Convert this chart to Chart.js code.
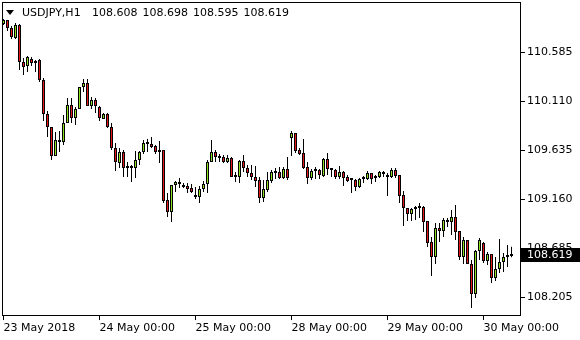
<!DOCTYPE html>
<html>
<head>
<meta charset="utf-8">
<script src="https://cdn.jsdelivr.net/npm/chart.js@4/dist/chart.umd.min.js"></script>
<style>
  html,body{margin:0;padding:0;background:#fff;overflow:hidden}
  #wrap{position:relative;width:580px;height:340px}
  .ttl{position:absolute;top:6px;font:11px 'DejaVu Sans',sans-serif;line-height:13px;color:#000;white-space:pre}
  #sym{left:22px}
  #ohlc{left:92px;word-spacing:1.5px}
  #tri{position:absolute;left:6px;top:10px;width:0;height:0;border-left:4.5px solid transparent;border-right:4.5px solid transparent;border-top:5px solid #000}
</style>
</head>
<body>
<div id="wrap">
  <canvas id="c" width="580" height="340"></canvas>
  <div id="tri"></div>
  <div id="sym" class="ttl"></div>
  <div id="ohlc" class="ttl"></div>
</div>
<script>
const SYMBOL = 'USDJPY,H1'

// hourly candles, 23 May 00:00 .. 30 May 07:00
const OPEN = [
  110.856,110.895,110.818,110.721,110.847,110.488,110.449,110.517,110.478,110.507,
  110.314,109.984,109.858,109.577,109.712,109.712,109.897,110.071,109.945,110.032,
  110.246,110.284,110.061,110.120,110.052,109.935,109.984,109.858,109.654,109.509,
  109.616,109.470,109.460,109.460,109.538,109.616,109.703,109.693,109.674,109.616,
  109.635,109.150,109.034,109.296,109.325,109.296,109.286,109.267,109.189,109.179,
  109.257,109.305,109.519,109.616,109.567,109.567,109.519,109.557,109.383,109.373,
  109.528,109.460,109.412,109.373,109.344,109.170,109.247,109.334,109.422,109.422,
  109.364,109.451,109.751,109.800,109.635,109.606,109.470,109.364,109.441,109.441,
  109.383,109.548,109.451,109.441,109.373,109.422,109.373,109.354,109.344,109.276,
  109.354,109.354,109.412,109.373,109.373,109.402,109.393,109.373,109.441,109.393,
  109.199,109.073,109.015,109.063,109.073,109.082,108.947,108.743,108.598,108.879,
  108.850,108.956,108.937,108.985,108.850,108.598,108.762,108.530,108.239,108.656,
  108.733,108.559,108.627,108.394,108.481,108.549,108.598,108.608
]
const HIGH = [
  110.905,110.895,110.837,110.866,110.856,110.527,110.546,110.536,110.507,110.517,
  110.333,110.013,109.858,109.809,109.819,109.974,110.139,110.139,110.052,110.246,
  110.323,110.323,110.149,110.139,110.061,109.994,109.994,109.897,109.703,109.654,
  109.635,109.519,109.490,109.625,109.625,109.732,109.742,109.761,109.683,109.722,
  109.635,109.218,109.296,109.334,109.364,109.315,109.315,109.305,109.276,109.286,
  109.334,109.538,109.732,109.635,109.596,109.586,109.586,109.567,109.422,109.538,
  109.586,109.490,109.490,109.480,109.373,109.344,109.422,109.441,109.460,109.470,
  109.470,109.567,109.819,109.800,109.654,109.742,109.519,109.451,109.470,109.451,
  109.557,109.606,109.460,109.451,109.480,109.431,109.393,109.364,109.354,109.364,
  109.383,109.431,109.412,109.393,109.431,109.431,109.412,109.460,109.460,109.393,
  109.237,109.073,109.073,109.092,109.121,109.092,108.947,108.792,108.927,108.927,
  108.976,108.976,109.053,109.102,108.850,108.792,108.762,108.569,108.666,108.782,
  108.743,108.646,108.627,108.598,108.772,108.636,108.714,108.698
]
const LOW = [
  110.847,110.789,110.711,110.711,110.410,110.362,110.391,110.449,110.391,110.294,
  109.916,109.761,109.538,109.577,109.616,109.683,109.897,109.897,109.877,110.032,
  110.197,110.061,110.032,109.994,109.916,109.935,109.848,109.635,109.431,109.460,
  109.373,109.373,109.325,109.364,109.490,109.596,109.616,109.654,109.596,109.509,
  109.121,108.985,108.937,109.228,109.267,109.267,109.218,109.218,109.160,109.121,
  109.228,109.218,109.519,109.519,109.519,109.509,109.509,109.373,109.325,109.315,
  109.422,109.373,109.344,109.276,109.121,109.131,109.228,109.315,109.354,109.354,
  109.354,109.344,109.577,109.606,109.586,109.451,109.305,109.344,109.354,109.354,
  109.373,109.393,109.373,109.354,109.354,109.286,109.325,109.218,109.237,109.267,
  109.315,109.344,109.305,109.325,109.364,109.373,109.189,109.364,109.364,109.121,
  108.898,108.947,108.947,108.956,108.976,108.840,108.695,108.414,108.530,108.743,
  108.792,108.889,108.811,108.762,108.569,108.530,108.530,108.103,108.200,108.569,
  108.540,108.520,108.346,108.365,108.443,108.452,108.501,108.595
]
const CLOSE = [
  110.895,110.818,110.730,110.847,110.488,110.440,110.536,110.478,110.498,110.314,
  109.984,109.858,109.577,109.732,109.722,109.897,110.071,109.945,110.032,110.246,
  110.284,110.061,110.120,110.061,109.945,109.984,109.858,109.654,109.519,109.616,
  109.460,109.460,109.470,109.538,109.616,109.703,109.693,109.664,109.616,109.635,
  109.141,109.034,109.296,109.325,109.305,109.276,109.257,109.228,109.179,109.257,
  109.305,109.519,109.616,109.567,109.557,109.519,109.557,109.373,109.373,109.528,
  109.460,109.412,109.373,109.334,109.170,109.257,109.344,109.422,109.412,109.364,
  109.451,109.364,109.800,109.625,109.596,109.460,109.364,109.431,109.431,109.393,
  109.548,109.451,109.441,109.373,109.422,109.364,109.334,109.344,109.276,109.354,
  109.364,109.412,109.354,109.364,109.422,109.412,109.373,109.441,109.383,109.189,
  109.073,109.015,109.063,109.073,109.082,108.937,108.733,108.598,108.879,108.850,
  108.956,108.937,108.985,108.840,108.598,108.762,108.530,108.239,108.656,108.762,
  108.559,108.627,108.394,108.481,108.549,108.598,108.607,108.619
]

const X_TICKS  = [0,24,48,72,96,120]
const X_LABELS = ['23 May 2018','24 May 00:00','25 May 00:00','28 May 00:00','29 May 00:00','30 May 00:00']
const Y_TICKS  = [110.585,110.110,109.635,109.160,108.685,108.205]

const BULL = '#8ce21c', BEAR = '#e4171b'
const FONT = {family:'DejaVu Sans', size:11}

const idx = OPEN.map((_,i)=>i)
const last = CLOSE.length-1

document.getElementById('sym').textContent = SYMBOL
document.getElementById('ohlc').textContent = [OPEN,HIGH,LOW,CLOSE].map(a=>a[last].toFixed(3)).join(' ')

// black frame round the plot
const frame = {
  id:'frame',
  beforeDatasetsDraw(chart){
    const {ctx, chartArea:a} = chart
    ctx.save(); ctx.strokeStyle='#000'; ctx.lineWidth=1
    ctx.strokeRect(a.left+0.5, a.top+0.5, a.right-a.left-1, a.bottom-a.top-1)
    ctx.restore()
  }
}

// last price box on the price scale
const bidLabel = {
  id:'bidLabel',
  afterDraw(chart){
    const {ctx, chartArea:a, scales:{y}} = chart
    const py = Math.round(y.getPixelForValue(CLOSE[last]))
    ctx.save()
    ctx.fillStyle='#000'; ctx.fillRect(a.right, py-7, chart.width-a.right, 14)
    ctx.fillStyle='#fff'; ctx.font="11px 'DejaVu Sans'"; ctx.textBaseline='middle'; ctx.textAlign='left'
    ctx.fillText(CLOSE[last].toFixed(3), a.right+6, py+0.5)
    ctx.restore()
  }
}

new Chart(document.getElementById('c'),{
  type:'bar',
  data:{
    datasets:[
      { label:'body', data:idx.map(i=>({x:i,y:[OPEN[i],CLOSE[i]]})),
        backgroundColor:idx.map(i=>CLOSE[i]>=OPEN[i]?BULL:BEAR), borderColor:'#000', borderWidth:1,
        borderSkipped:false, barThickness:3, minBarLength:2, grouped:false, inflateAmount:0, order:0 },
      { label:'wick', data:idx.map(i=>({x:i,y:[LOW[i],HIGH[i]]})),
        backgroundColor:'#000', borderWidth:0, barThickness:1, grouped:false, inflateAmount:0, order:1 }
    ]
  },
  options:{
    responsive:false, animation:false, events:[],
    layout:{padding:{top:2,left:2,right:0,bottom:0}},
    plugins:{legend:{display:false}, tooltip:{enabled:false}},
    scales:{
      x:{ type:'linear', min:-0.375, max:129.375, offset:false, bounds:'data',
        border:{display:false},
        grid:{drawOnChartArea:false, drawTicks:true, tickLength:4, color:'#000', offset:false},
        ticks:{color:'#000', font:FONT, align:'start', autoSkip:false, maxRotation:0, padding:2,
          callback:(v,i)=>X_LABELS[i]},
        afterBuildTicks:s=>{ s.ticks = X_TICKS.map(v=>({value:v})) },
        afterFit:s=>{ s.height=24; s.paddingLeft=0; s.paddingRight=0 } },
      y:{ type:'linear', position:'right', min:108.026, max:111.070, bounds:'data', beginAtZero:false,
        border:{display:false},
        grid:{drawOnChartArea:false, drawTicks:true, tickLength:4, color:'#000'},
        ticks:{color:'#000', font:FONT, crossAlign:'near', padding:2, autoSkip:false,
          callback:v=>v.toFixed(3)},
        afterBuildTicks:s=>{ s.ticks = Y_TICKS.map(v=>({value:v})) },
        afterFit:s=>{ s.width=59; s.paddingTop=0; s.paddingBottom=0 } }
    }
  },
  plugins:[frame,bidLabel]
})
</script>
</body>
</html>
